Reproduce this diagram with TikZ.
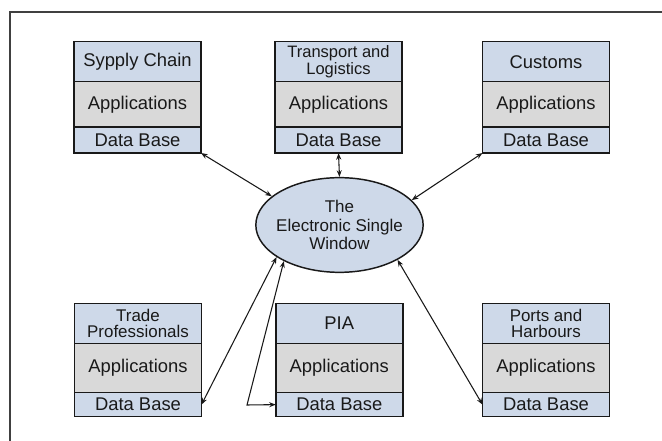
\documentclass[tikz,border=0pt]{standalone}
\usepackage{fontspec}
\setmainfont{Liberation Sans}
\usetikzlibrary{shapes.geometric,arrows.meta}
\definecolor{hblue}{RGB}{206,217,233}
\definecolor{agray}{RGB}{217,217,217}
\definecolor{ink}{RGB}{25,25,25}
\begin{document}
\begin{tikzpicture}[x=0.75pt,y=-0.75pt,
  box/.style={draw=ink, line width=1.1pt, minimum width=95.25pt, inner sep=0pt, outer sep=0pt,
    align=center, text=ink, font=\fontsize{13.8}{15}\selectfont},
  hdr/.style={box, fill=hblue, minimum height=30pt},
  app/.style={box, fill=agray, minimum height=34pt},
  db/.style={box, fill=hblue, minimum height=19.5pt},
  appb/.style={app, minimum height=37pt},
  dbb/.style={db, minimum height=18pt},
  small/.style={font=\fontsize{12.4}{10.5}\selectfont},
  mid/.style={font=\fontsize{12.7}{12}\selectfont},
  conn/.style={draw=ink, line width=0.8pt, {Stealth[length=5pt,width=3.8pt]}-{Stealth[length=5pt,width=3.8pt]}},
]
\useasboundingbox (0,0) rectangle (662,441);
% frame
\coordinate (f1) at (10,441);
\coordinate (f2) at (10,12);
\coordinate (f3) at (662,12);
\draw[draw=black!75, line width=0.8pt] (f1) -- (f2) -- (f3);

% top row
\node[hdr, anchor=north] (sc-h) at (137.5,41.7) {Sypply Chain};
\node[app, anchor=north] (sc-a) at (sc-h.south) {Applications};
\node[db, anchor=north] (sc-d) at (sc-a.south) {Data Base};

\node[hdr, anchor=north, small] (tl-h) at (338.5,41.7) {Transport and\\Logistics};
\node[app, anchor=north] (tl-a) at (tl-h.south) {Applications};
\node[db, anchor=north] (tl-d) at (tl-a.south) {Data Base};

\node[hdr, anchor=north] (cu-h) at (546,41.7) {Customs};
\node[app, anchor=north] (cu-a) at (cu-h.south) {Applications};
\node[db, anchor=north] (cu-d) at (cu-a.south) {Data Base};

% bottom row
\node[hdr, anchor=north, mid] (tp-h) at (138,303.3) {Trade\\Professionals};
\node[appb, anchor=north] (tp-a) at (tp-h.south) {Applications};
\node[dbb, anchor=north] (tp-d) at (tp-a.south) {Data Base};

\node[hdr, anchor=north] (pia-h) at (339.3,303.3) {PIA};
\node[appb, anchor=north] (pia-a) at (pia-h.south) {Applications};
\node[dbb, anchor=north] (pia-d) at (pia-a.south) {Data Base};

\node[hdr, anchor=north, mid] (ph-h) at (546,303.3) {Ports and\\Harbours};
\node[appb, anchor=north] (ph-a) at (ph-h.south) {Applications};
\node[dbb, anchor=north] (ph-d) at (ph-a.south) {Data Base};

% central ellipse
\node[ellipse, draw=ink, line width=1.1pt, fill=hblue, minimum width=125.5pt, minimum height=71pt, inner sep=0pt] (E) at (339.5,225) {};
\node[align=center, text=ink, inner sep=0pt, font=\fontsize{12.75}{14}\selectfont] (Et) at (E.center) {The\\Electronic Single\\Window};

% connectors
\draw[conn] (sc-d.south east) -- (E.157);
\draw[conn] (tl-d.south) -- (E.north);
\draw[conn] (cu-d.south west) -- (E.19);
\draw[conn] (tp-d.east) -- (E.207);
\coordinate (pc) at (247,405);
\draw[conn] (E.213) -- (pc) -- (pia-d.west);
\draw[conn] (E.329) -- (ph-d.west);
\end{tikzpicture}
\end{document}
